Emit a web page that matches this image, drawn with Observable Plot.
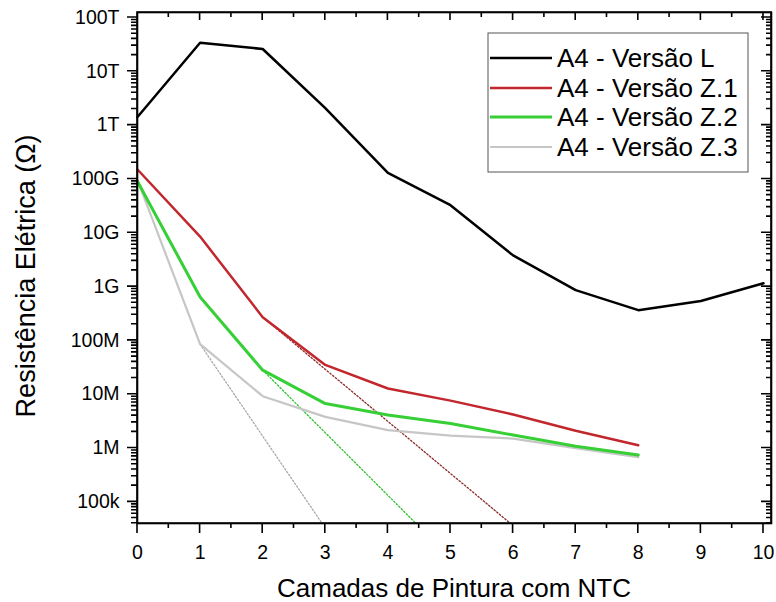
<!DOCTYPE html>
<html><head><meta charset="utf-8">
<script src="https://cdn.jsdelivr.net/npm/d3@7"></script>
<script src="https://cdn.jsdelivr.net/npm/@observablehq/plot@0.6"></script>
<style>
body{margin:0;background:#fff;font-family:Arial,"Liberation Sans",sans-serif}
#chart svg{display:block}
</style>
</head><body><div id="chart"></div>
<script>
// ---- data ----
const camadasL = [0, 1, 2, 3, 4, 5, 6, 7, 8, 9, 10];
const versaoL  = [1.42e12, 3.4e13, 2.6e13, 2.07e12, 1.3e11, 3.25e10, 3.8e9, 8.6e8, 3.65e8, 5.4e8, 1.15e9];
const camadasZ = [0, 1, 2, 3, 4, 5, 6, 7, 8];
const versaoZ1 = [1.5e11, 8.5e9, 2.7e8, 3.5e7, 1.28e7, 7.6e6, 4.2e6, 2.1e6, 1.13e6];
const versaoZ2 = [9e10, 6.4e8, 2.8e7, 6.7e6, 4.1e6, 2.86e6, 1.75e6, 1.08e6, 7.4e5];
const versaoZ3 = [9.5e10, 8.5e7, 9.2e6, 3.8e6, 2.15e6, 1.7e6, 1.5e6, 1.0e6, 6.8e5];
// dotted extrapolation lines (start, end)
const trendZ1x = [2, 5.96], trendZ1y = [2.7e8, 3.96e4];
const trendZ2x = [2, 4.45], trendZ2y = [2.8e7, 3.96e4];
const trendZ3x = [1, 2.95], trendZ3y = [8.5e7, 3.96e4];
// ticks
const xMajor = [0, 1, 2, 3, 4, 5, 6, 7, 8, 9, 10];
const xMinor = [0.5, 1.5, 2.5, 3.5, 4.5, 5.5, 6.5, 7.5, 8.5, 9.5];
const yMajor = [1e5, 1e6, 1e7, 1e8, 1e9, 1e10, 1e11, 1e12, 1e13, 1e14];
const yLabels = ["100k", "1M", "10M", "100M", "1G", "10G", "100G", "1T", "10T", "100T"];
const seriesNames = ["A4 - Versão L", "A4 - Versão Z.1", "A4 - Versão Z.2", "A4 - Versão Z.3"];
const seriesColors = ["#000000", "#c1272d", "#36d036", "#c6c6c6"];
const seriesWidths = [2.5, 2.5, 3, 2.2];
const trendColors = ["#8b2a2a", "#2fbf2f", "#a8a8a8"];

const yMin = Math.pow(10, 4.598), yMax = Math.pow(10, 14.093);
const yMinor = [];
for (let e = 4; e <= 14; e++) for (let k = 2; k <= 9; k++) {
  const v = k * Math.pow(10, e);
  if (v >= yMin && v <= yMax) yMinor.push(v);
}
const toRows = (xs, ys) => xs.map((x, i) => ({x, y: ys[i]}));
const rowsL = toRows(camadasL, versaoL);
const rowsZ1 = toRows(camadasZ, versaoZ1);
const rowsZ2 = toRows(camadasZ, versaoZ2);
const rowsZ3 = toRows(camadasZ, versaoZ3);
const tr1 = toRows(trendZ1x, trendZ1y), tr2 = toRows(trendZ2x, trendZ2y), tr3 = toRows(trendZ3x, trendZ3y);
const yFmt = d => yLabels[yMajor.indexOf(d)] ?? "";
const W = 776, H = 602, mL = 137, mR = 5, mT = 12, mB = 79;

const plot = Plot.plot({
  width: W, height: H,
  marginLeft: mL, marginRight: mR, marginTop: mT, marginBottom: mB,
  x: {domain: [0, 10.128]},
  y: {type: "log", domain: [yMin, yMax]},
  style: {fontFamily: "Arial, 'Liberation Sans', sans-serif", fontSize: "19.5px", color: "#000", background: "#fff"},
  marks: [
    Plot.line(tr1, {x: "x", y: "y", stroke: trendColors[0], strokeWidth: 1.3, strokeDasharray: "1.5,2", clip: true}),
    Plot.line(tr2, {x: "x", y: "y", stroke: trendColors[1], strokeWidth: 1.3, strokeDasharray: "1.5,2", clip: true}),
    Plot.line(tr3, {x: "x", y: "y", stroke: trendColors[2], strokeWidth: 1.3, strokeDasharray: "1.5,2", clip: true}),
    Plot.line(rowsZ3, {x: "x", y: "y", stroke: seriesColors[3], strokeWidth: seriesWidths[3]}),
    Plot.line(rowsZ2, {x: "x", y: "y", stroke: seriesColors[2], strokeWidth: seriesWidths[2]}),
    Plot.line(rowsZ1, {x: "x", y: "y", stroke: seriesColors[1], strokeWidth: seriesWidths[1]}),
    Plot.line(rowsL, {x: "x", y: "y", stroke: seriesColors[0], strokeWidth: seriesWidths[0]}),
    Plot.frame({stroke: "#000", strokeWidth: 1.6}),
    Plot.axisX(xMajor, {anchor: "bottom", tickSize: 0, tickPadding: 22, tickFormat: d => String(d), label: null}),
    Plot.axisY(yMajor, {anchor: "left", tickSize: 0, tickPadding: 18, tickFormat: yFmt, label: null})
  ]
});
document.getElementById("chart").appendChild(plot);

const svg = d3.select(plot);
const sxo = plot.scale("x"), syo = plot.scale("y");
const fx = d3.scaleLinear(sxo.domain, sxo.range);
const fy = d3.scaleLog(syo.domain, syo.range);
const x0 = mL, x1 = W - mR, y0 = mT, y1 = H - mB;

// frame outline and all ticks combined into one continuous axis path
let d = `M${x0},${y0}H${x1}V${y1}H${x0}Z`;
const xT = (vals, ya, yb) => vals.forEach(v => { d += `M${fx(v)},${ya}V${yb}`; });
const yT = (vals, xa, xb) => vals.forEach(v => { d += `M${xa},${fy(v)}H${xb}`; });
xT(xMajor, y1, y1 + 10); xT(xMinor, y1, y1 + 5);
xT(xMajor, y0, y0 + 8);  xT(xMinor, y0, y0 + 5);
yT(yMajor, x0 - 10, x0); yT(yMinor, x0 - 6, x0);
yT(yMajor, x1 - 10, x1); yT(yMinor, x1 - 5, x1);
svg.append("path").attr("d", d).attr("fill", "none").attr("stroke", "#000").attr("stroke-width", 1.6);

// axis titles
svg.append("text").attr("x", 454).attr("y", 597).attr("text-anchor", "middle")
  .attr("font-size", 26).attr("fill", "#000").text("Camadas de Pintura com NTC");
svg.append("text").attr("transform", "translate(35,276) rotate(-90)").attr("text-anchor", "middle")
  .attr("font-size", 27).attr("fill", "#000").text("Resistência Elétrica (Ω)");
// legend
const lg = svg.append("g").attr("text-anchor", "start");
lg.append("rect").attr("x", 488).attr("y", 33).attr("width", 260).attr("height", 139)
  .attr("fill", "#fff").attr("stroke", "#555").attr("stroke-width", 1);
const rowY = [58, 88, 117, 147];
seriesNames.forEach((name, i) => {
  lg.append("line").attr("x1", 490).attr("x2", 552).attr("y1", rowY[i]).attr("y2", rowY[i])
    .attr("stroke", seriesColors[i]).attr("stroke-width", seriesWidths[i]);
  lg.append("text").attr("x", 557).attr("y", rowY[i]).attr("dy", "0.35em").attr("text-anchor", "start")
    .attr("font-size", 26).attr("fill", "#000").text(name);
});
</script>
</body></html>
